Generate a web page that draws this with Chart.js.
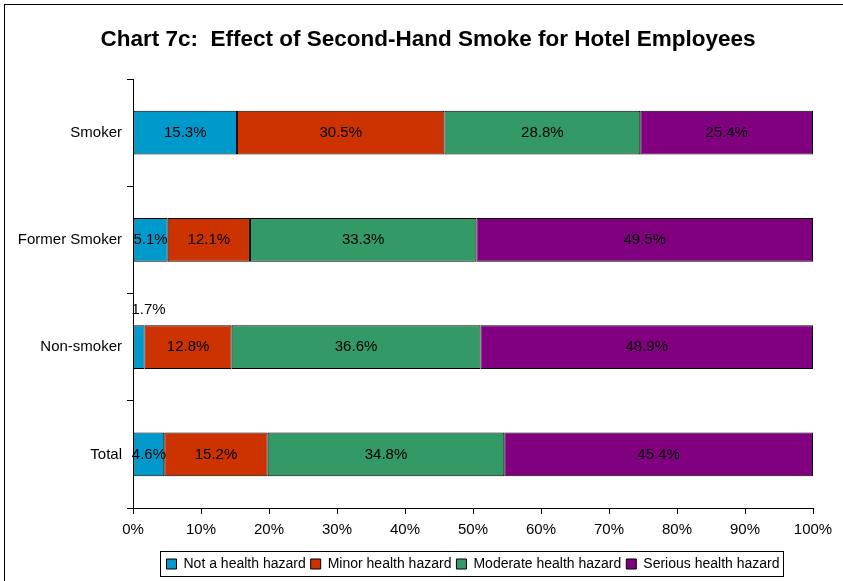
<!DOCTYPE html>
<html>
<head>
<meta charset="utf-8">
<script src="https://cdn.jsdelivr.net/npm/chart.js@4/dist/chart.umd.min.js"></script>
<style>
  body { margin: 0; background: #fff; }
  #wrap { width: 843px; height: 581px; }
</style>
</head>
<body>
<div id="wrap"><canvas id="grafico"></canvas></div>
<script>
// Dados ======================================================================

const categorias = ["Smoker", "Former Smoker", "Non-smoker", "Total"];
const naoPerigo = [15.3, 5.1, 1.7, 4.6];
const perigoMenor = [30.5, 12.1, 12.8, 15.2];
const perigoModerado = [28.8, 33.3, 36.6, 34.8];
const perigoSerio = [25.4, 49.5, 48.9, 45.4];

const data = {
  labels: categorias,
  datasets: [
    { label: "Not a health hazard", data: naoPerigo, backgroundColor: "#0099CC" },
    { label: "Minor health hazard", data: perigoMenor, backgroundColor: "#CC3300" },
    { label: "Moderate health hazard", data: perigoModerado, backgroundColor: "#339966" },
    { label: "Serious health hazard", data: perigoSerio, backgroundColor: "#800080" },
  ],
};
data.datasets.forEach((ds) => {
  ds.borderColor = "#000";
  ds.borderWidth = 1;
  ds.borderSkipped = false;
  ds.inflateAmount = 0;
  ds.categoryPercentage = 1;
  ds.barPercentage = 0.41;
});

// moldura externa + caixa da legenda + rótulos nas barras
const extras = {
  id: "extras",
  beforeDraw(chart) {
    const ctx = chart.ctx;
    ctx.save();
    ctx.strokeStyle = "#000";
    ctx.lineWidth = 1;
    ctx.strokeRect(4.5, 4.5, 900, 700);
    ctx.restore();
  },
  afterDatasetsDraw(chart) {
    const ctx = chart.ctx;
    ctx.save();
    ctx.font = "15px 'Liberation Sans', Arial, sans-serif";
    ctx.fillStyle = "#000";
    ctx.textAlign = "center";
    ctx.textBaseline = "middle";
    chart.data.datasets.forEach((ds, i) => {
      chart.getDatasetMeta(i).data.forEach((el, j) => {
        const v = ds.data[j];
        const txt = v.toFixed(1) + "%";
        if (v < 3) {
          ctx.fillText(txt, el.base + 15, el.y - el.height / 2 - 15);
        } else {
          ctx.fillText(txt, (el.x + el.base) / 2, el.y);
        }
      });
    });
    ctx.restore();
  },
  afterDraw(chart) {
    const boxes = chart.legend.legendHitBoxes;
    if (!boxes || !boxes.length) return;
    let l = Infinity, r = -Infinity, t = Infinity, b = -Infinity;
    boxes.forEach((h) => {
      l = Math.min(l, h.left);
      r = Math.max(r, h.left + h.width);
      t = Math.min(t, h.top);
      b = Math.max(b, h.top + h.height);
    });
    const ctx = chart.ctx;
    ctx.save();
    ctx.strokeStyle = "#000";
    ctx.lineWidth = 1;
    ctx.strokeRect(Math.round(l - 6) + 0.5, Math.round(t - 6) + 0.5, Math.round(r - l + 10), Math.round(b - t + 11));
    ctx.restore();
  },
};

const config = {
  type: "bar",
  data: data,
  options: {
    indexAxis: "y",
    responsive: true,
    maintainAspectRatio: false,
    animation: false,
    layout: { padding: { left: 13, right: 0, top: 0, bottom: 0 } },
    scales: {
      x: {
        stacked: true,
        min: 0,
        max: 100,
        ticks: {
          stepSize: 10,
          color: "#000",
          font: { size: 15 },
          padding: 7,
          callback: (v) => v + "%",
        },
        grid: { drawOnChartArea: false, tickLength: 6, color: "#000" },
        border: { color: "#000" },
        afterFit: (s) => {
          s.height = 44;
          s.paddingRight = 30;
        },
      },
      y: {
        stacked: true,
        ticks: { color: "#000", font: { size: 15 }, padding: 5 },
        grid: { offset: true, drawOnChartArea: false, tickLength: 6, color: "#000" },
        border: { color: "#000" },
        afterFit: (s) => { s.width = 120; },
      },
    },
    plugins: {
      title: {
        display: true,
        text: "Chart 7c:  Effect of Second-Hand Smoke for Hotel Employees",
        color: "#000",
        font: { size: 22.5, weight: "bold" },
        padding: { top: 26, bottom: 26 },
      },
      legend: {
        position: "bottom",
        fullSize: false,
        labels: {
          color: "#000",
          font: { size: 14 },
          boxWidth: 10,
          boxHeight: 10,
          padding: 5,
          useBorderRadius: false,
        },
      },
      tooltip: { enabled: false },
    },
  },
  plugins: [extras],
};

Chart.defaults.font.family = "'Liberation Sans', Arial, sans-serif";

const grafico = new Chart(document.getElementById("grafico"), config);
</script>
</body>
</html>
